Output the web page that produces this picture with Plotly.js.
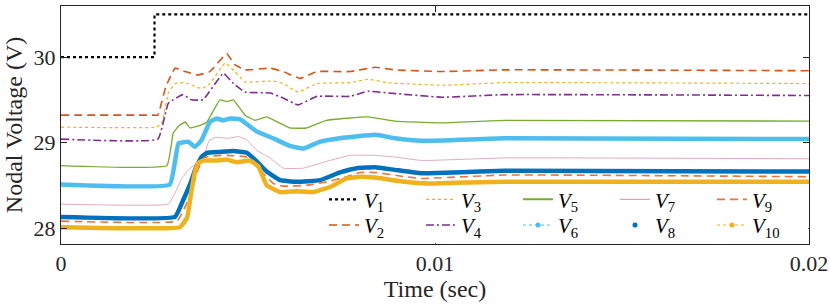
<!DOCTYPE html>
<html>
<head>
<meta charset="utf-8">
<script src="https://cdn.plot.ly/plotly-3.0.1.min.js"></script>
<style>html,body{margin:0;padding:0;background:#fff}#chart{width:830px;height:305px}</style>
</head>
<body>
<div id="chart"></div>
<script>
// time in milliseconds, voltage in volts
const t1 = [0, 2.5, 2.5, 20];
const v1 = [30, 30, 30.5, 30.5];

const t2 = [0, 2.49, 2.59, 2.8, 3.05, 3.32, 3.66, 3.98, 4.43, 4.65, 4.92, 5.59, 5.94, 6.39, 6.84, 7.73, 8.40, 8.93, 10.18, 11.87, 20];
const v2 = [29.32, 29.32, 29.32, 29.65, 29.87, 29.83, 29.79, 29.83, 30.04, 29.91, 29.85, 29.87, 29.83, 29.75, 29.83, 29.83, 29.88, 29.85, 29.83, 29.85, 29.84];

const t3 = [0, 2.55, 2.69, 2.87, 3.05, 3.32, 3.76, 3.98, 4.39, 4.65, 4.92, 5.67, 5.94, 6.34, 6.84, 7.73, 8.21, 8.74, 10.18, 11.87, 20];
const v3 = [29.18, 29.18, 29.22, 29.58, 29.69, 29.70, 29.63, 29.69, 29.93, 29.83, 29.71, 29.72, 29.69, 29.59, 29.69, 29.70, 29.74, 29.70, 29.67, 29.70, 29.69];

const t4 = [0, 2.59, 2.87, 3.26, 3.49, 3.80, 4.34, 4.61, 4.92, 5.59, 5.94, 6.34, 6.84, 7.73, 8.21, 8.74, 10.18, 11.87, 20];
const v4 = [29.04, 29.04, 29.46, 29.56, 29.50, 29.50, 29.81, 29.69, 29.59, 29.58, 29.52, 29.44, 29.54, 29.54, 29.60, 29.58, 29.53, 29.56, 29.55];

const t5 = [0, 2.83, 3.00, 3.14, 3.32, 3.45, 3.72, 3.90, 4.25, 4.43, 4.61, 4.92, 5.19, 5.50, 6.12, 6.57, 7.10, 8.21, 8.93, 10.18, 11.87, 20];
const v5 = [28.73, 28.73, 29.11, 29.19, 29.24, 29.17, 29.20, 29.24, 29.50, 29.48, 29.50, 29.32, 29.26, 29.30, 29.17, 29.17, 29.26, 29.30, 29.25, 29.23, 29.26, 29.25];

const t6 = [0, 2.91, 3.14, 3.40, 3.58, 3.76, 3.98, 4.16, 4.34, 4.52, 4.79, 5.23, 5.67, 6.12, 6.48, 6.93, 7.46, 8.40, 8.93, 9.64, 11.87, 20];
const v6 = [28.51, 28.51, 28.99, 29.01, 28.95, 29.03, 29.24, 29.28, 29.26, 29.28, 29.27, 29.13, 29.05, 28.96, 28.93, 29.01, 29.05, 29.09, 29.05, 29.02, 29.05, 29.04];

const t7 = [0, 2.87, 3.05, 3.23, 3.45, 3.64, 3.80, 3.96, 4.12, 4.47, 4.74, 4.97, 5.23, 5.59, 5.94, 6.48, 7.10, 7.73, 8.40, 8.93, 9.64, 11.87, 20];
const v7 = [28.28, 28.28, 28.41, 28.58, 28.70, 28.76, 28.82, 29.02, 29.06, 29.05, 29.07, 29.03, 28.91, 28.82, 28.70, 28.70, 28.78, 28.85, 28.85, 28.83, 28.79, 28.82, 28.81];

const t8 = [0, 3.05, 3.27, 3.45, 3.61, 3.76, 3.90, 4.25, 4.61, 4.97, 5.23, 5.50, 5.86, 6.30, 6.93, 7.46, 7.91, 8.40, 8.93, 9.64, 10.53, 11.87, 20];
const v8 = [28.13, 28.13, 28.33, 28.51, 28.71, 28.83, 28.88, 28.89, 28.90, 28.88, 28.78, 28.66, 28.56, 28.54, 28.56, 28.65, 28.70, 28.71, 28.68, 28.64, 28.65, 28.67, 28.66];

const t9 = [0, 3.10, 3.32, 3.50, 3.66, 3.82, 3.98, 4.43, 4.97, 5.32, 5.68, 5.94, 6.57, 7.10, 7.64, 7.99, 8.40, 9.20, 9.64, 11.87, 20];
const v9 = [28.08, 28.08, 28.25, 28.44, 28.68, 28.82, 28.84, 28.85, 28.83, 28.68, 28.52, 28.49, 28.50, 28.54, 28.60, 28.65, 28.65, 28.60, 28.58, 28.62, 28.60];

const t10 = [0, 3.18, 3.37, 3.49, 3.58, 3.67, 3.80, 4.16, 4.43, 4.70, 5.05, 5.28, 5.50, 5.86, 6.30, 6.75, 7.19, 7.64, 7.99, 8.40, 9.20, 9.82, 10.53, 11.87, 20];
const v10 = [28.01, 28.01, 28.12, 28.44, 28.65, 28.76, 28.79, 28.79, 28.80, 28.77, 28.79, 28.72, 28.50, 28.42, 28.43, 28.42, 28.48, 28.58, 28.60, 28.59, 28.54, 28.52, 28.53, 28.54, 28.54];

const names = ['<i>V</i><sub>1</sub>','<i>V</i><sub>2</sub>','<i>V</i><sub>3</sub>','<i>V</i><sub>4</sub>','<i>V</i><sub>5</sub>',
               '<i>V</i><sub>6</sub>','<i>V</i><sub>7</sub>','<i>V</i><sub>8</sub>','<i>V</i><sub>9</sub>','<i>V</i><sub>10</sub>'];
const xTickVals = [0, 10, 20];
const xTickText = ['0', '0.01', '0.02'];
const yTickVals = [28, 29, 30];

const T = [t1,t2,t3,t4,t5,t6,t7,t8,t9,t10];
const V = [v1,v2,v3,v4,v5,v6,v7,v8,v9,v10];

const colors = ['#000000','#D95319','#EDB120','#7E2F8E','#77AC30','#4DBEEE','#DEA3B3','#0072BD','#E8743F','#EFB21E'];
const plotStyle = [
  {width:2.2, dash:'dot'},
  {width:1.6, dash:'8px,5px'},
  {width:1.2, dash:'dot'},
  {width:1.6, dash:'8px,3px,2px,3px'},
  {width:1.3, dash:'solid'},
  {width:4.5, dash:'solid'},
  {width:0.9, dash:'solid'},
  {width:4.5, dash:'solid'},
  {width:1.6, dash:'8px,5px'},
  {width:4.5, dash:'solid'}
];
// legend appearance per series
const legStyle = [
  {mode:'lines', width:2.2, dash:'dot'},
  {mode:'lines', width:1.6, dash:'8px,5px'},
  {mode:'lines', width:1.2, dash:'dot'},
  {mode:'lines', width:1.6, dash:'8px,3px,2px,3px'},
  {mode:'lines', width:2, dash:'solid'},
  {mode:'lines+markers', width:1, dash:'dot'},
  {mode:'lines', width:1.2, dash:'solid'},
  {mode:'markers', width:1, dash:'solid'},
  {mode:'lines', width:1.6, dash:'8px,5px'},
  {mode:'lines+markers', width:1, dash:'dot'}
];
// odd series in the top legend row, even series in the bottom row
const legWhich = ['legend','legend2','legend','legend2','legend','legend2','legend','legend2','legend','legend2'];

const traces = [];
for (let i = 0; i < 10; i++) {
  traces.push({
    x: T[i], y: V[i], type:'scatter', mode:'lines', showlegend:false, hoverinfo:'skip',
    line:{color:colors[i], width:plotStyle[i].width, dash:plotStyle[i].dash, shape: i===0 ? 'linear' : 'spline', smoothing:0.3}
  });
}
for (let i = 0; i < 10; i++) {
  traces.push({
    x:[null], y:[null], type:'scatter', mode:legStyle[i].mode, name:names[i], legend:legWhich[i],
    line:{color:colors[i], width:legStyle[i].width, dash:legStyle[i].dash},
    marker:{color:colors[i], size:5}
  });
}

const fam = 'Liberation Serif, Times New Roman, Times, serif';
const legCommon = {orientation:'h', x:1, xanchor:'right', yanchor:'bottom', bgcolor:'rgba(0,0,0,0)',
  entrywidth:52, tracegroupgap:0, itemwidth:30, traceorder:'normal',
  font:{family:fam, size:21, color:'#000'}};
const layout = {
  width:830, height:305,
  margin:{l:61, r:21, t:6, b:61},
  paper_bgcolor:'#ffffff', plot_bgcolor:'#ffffff',
  font:{family:fam, size:22, color:'#262626'},
  showlegend:true,
  legend:Object.assign({}, legCommon, {y:0.1}),
  legend2:Object.assign({}, legCommon, {y:-0.008}),
  shapes:[{type:'rect', xref:'paper', yref:'paper', x0:0.353, x1:0.999, y0:0.003, y1:0.214,
           fillcolor:'#ffffff', line:{width:0}, layer:'above'}],
  xaxis:{range:[0,20], tickvals:xTickVals, ticktext:xTickText, ticks:'inside', ticklen:6, tickcolor:'#262626',
         showline:true, linecolor:'#262626', linewidth:1, mirror:'ticks', showgrid:false, zeroline:false,
         tickfont:{family:fam, size:22, color:'#262626'},
         title:{text:'Time (sec)', font:{family:fam, size:24, color:'#262626'}, standoff:0}},
  yaxis:{range:[27.813,30.597], tickvals:yTickVals, ticks:'inside', ticklen:6, tickcolor:'#262626',
         showline:true, linecolor:'#262626', linewidth:1, mirror:'ticks', showgrid:false, zeroline:false,
         tickfont:{family:fam, size:22, color:'#262626'},
         title:{text:'Nodal Voltage (V)', font:{family:fam, size:24, color:'#262626'}, standoff:4}}
};
Plotly.newPlot('chart', traces, layout, {displayModeBar:false, staticPlot:true});
</script>
</body>
</html>
